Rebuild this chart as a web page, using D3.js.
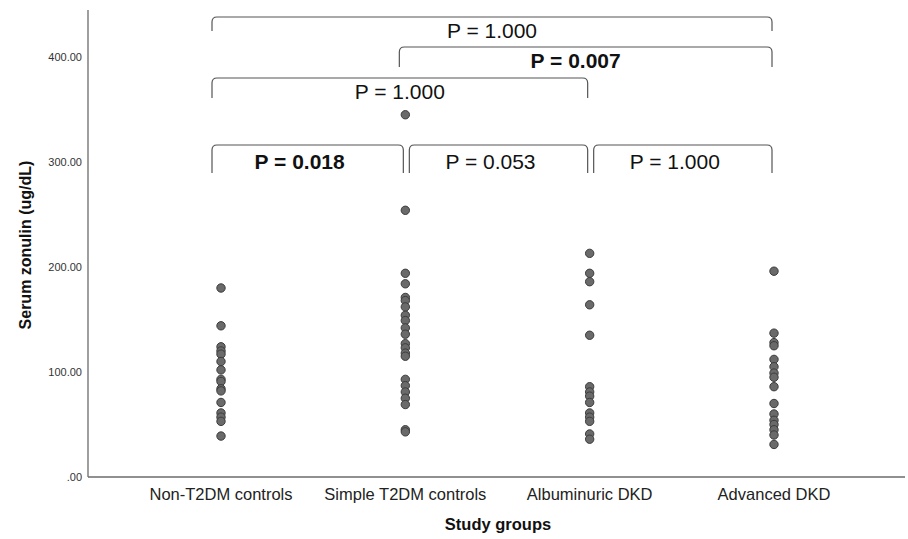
<!DOCTYPE html>
<html>
<head>
<meta charset="utf-8">
<script src="https://cdn.jsdelivr.net/npm/d3@7"></script>
<style>
  body { margin: 0; background: #fff; }
  text { font-family: "Liberation Sans", Arial, sans-serif; }
</style>
</head>
<body>
<div id="chart"></div>
<script>
// groups on the x axis
var groups = ["Non-T2DM controls", "Simple T2DM controls", "Albuminuric DKD", "Advanced DKD"];

// serum zonulin values (ug/dL)
var nonT2DM = [180, 144, 124, 120, 117, 110, 102, 93, 91, 84, 82, 71, 61, 57, 53, 39];
var simpleT2DM = [345, 254, 194, 184, 171, 168, 162, 154, 149, 142, 136, 127, 123, 118, 115, 93, 87, 81, 75, 69, 45, 43];
var albuminuric = [213, 194, 186, 164, 135, 86, 81, 77, 71, 61, 57, 53, 41, 36];
var advanced = [196, 137, 128, 125, 112, 105, 99, 95, 86, 70, 60, 54, 50, 45, 40, 31];

var yTicks = [0, 100, 200, 300, 400];
var yTickLabels = [".00", "100.00", "200.00", "300.00", "400.00"];

// pairwise comparisons (group index from / to), label, bold when significant
var compFrom = [0, 1, 0, 0, 1, 2];
var compTo = [3, 3, 2, 1, 2, 3];
var compLabel = ["P = 1.000", "P = 0.007", "P = 1.000", "P = 0.018", "P = 0.053", "P = 1.000"];
var compBold = [false, true, false, true, false, false];
var compRow = [0, 1, 2, 3, 3, 3];

var w = 908,
    h = 539;

var svg = d3.select("#chart")
  .append("svg")
  .attr("width", w)
  .attr("height", h);

var x = d3.scalePoint()
  .domain(groups)
  .range([221, 774]);

var y = d3.scaleLinear()
  .domain([0, 400])
  .range([477, 57]);

var axisColor = "#6b6b6b";

// axes lines
svg.append("line")
  .attr("x1", 88).attr("x2", 88)
  .attr("y1", 10).attr("y2", y(0))
  .style("stroke", axisColor)
  .style("stroke-width", 1.3);

svg.append("line")
  .attr("x1", 88).attr("x2", 905)
  .attr("y1", y(0)).attr("y2", y(0))
  .style("stroke", axisColor)
  .style("stroke-width", 1.3);

// y tick labels
svg.selectAll(".ylab")
  .data(yTicks)
  .enter().append("text")
  .attr("class", "ylab")
  .attr("x", 82)
  .attr("y", function(d) { return y(d); })
  .attr("dy", "0.35em")
  .attr("text-anchor", "end")
  .style("font-size", "11px")
  .style("fill", "#333")
  .text(function(d, i) { return yTickLabels[i]; });

// category labels
svg.selectAll(".xlab")
  .data(groups)
  .enter().append("text")
  .attr("class", "xlab")
  .attr("x", function(d) { return x(d); })
  .attr("y", 500)
  .attr("text-anchor", "middle")
  .style("font-size", "16.5px")
  .style("fill", "#222")
  .text(function(d) { return d; });

// axis titles
svg.append("text")
  .attr("x", 498)
  .attr("y", 530)
  .attr("text-anchor", "middle")
  .style("font-size", "16.5px")
  .style("font-weight", "bold")
  .style("fill", "#111")
  .text("Study groups");

svg.append("text")
  .attr("transform", "translate(31,245) rotate(-90)")
  .attr("text-anchor", "middle")
  .style("font-size", "16px")
  .style("font-weight", "bold")
  .style("fill", "#111")
  .text("Serum zonulin (ug/dL)");

// points
var series = [nonT2DM, simpleT2DM, albuminuric, advanced];
series.forEach(function(vals, gi) {
  svg.selectAll(".pt" + gi)
    .data(vals)
    .enter().append("circle")
    .attr("class", "pt" + gi)
    .attr("cx", x(groups[gi]))
    .attr("cy", function(d) { return y(d); })
    .attr("r", 4.2)
    .style("fill", "#6a6a6a")
    .style("stroke", "#3c3c3c")
    .style("stroke-width", 1);
});

// comparison brackets
var rowY = [17, 47, 78, 145],
    rowDrop = [14, 20, 20, 28],
    rowText = [21, 21, 21, 24],
    rad = 5;

compFrom.forEach(function(a, i) {
  var b = compTo[i],
      r = compRow[i],
      adjacent = (b - a) === 1;
  var x1 = a === 0 ? x(groups[a]) - 9 : x(groups[a]) + (adjacent ? 4 : -6),
      x2 = x(groups[b]) - 2,
      top = rowY[r],
      bot = top + rowDrop[r];

  var p = d3.path();
  p.moveTo(x1, bot);
  p.lineTo(x1, top + rad);
  p.quadraticCurveTo(x1, top, x1 + rad, top);
  p.lineTo(x2 - rad, top);
  p.quadraticCurveTo(x2, top, x2, top + rad);
  p.lineTo(x2, bot);

  svg.append("path")
    .attr("d", p.toString())
    .style("fill", "none")
    .style("stroke", "#555")
    .style("stroke-width", 1.2);

  svg.append("text")
    .attr("x", (x1 + x2) / 2 - (adjacent ? 8 : (a === 0 ? 0 : 10)))
    .attr("y", top + rowText[r])
    .attr("text-anchor", "middle")
    .style("font-size", "21px")
    .style("font-weight", compBold[i] ? "bold" : "normal")
    .style("fill", "#111")
    .text(compLabel[i]);
});
</script>
</body>
</html>
